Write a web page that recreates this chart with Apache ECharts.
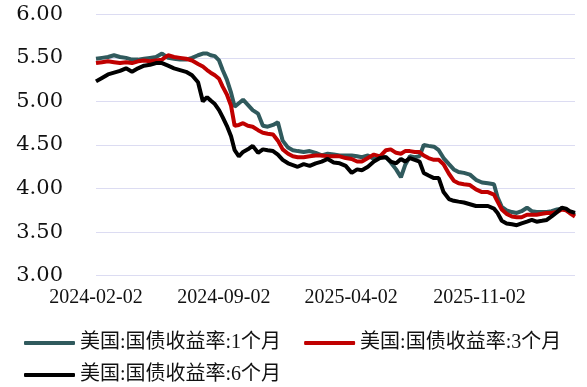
<!DOCTYPE html>
<html>
<head>
<meta charset="utf-8">
<script src="https://cdn.jsdelivr.net/npm/echarts@6/dist/echarts.min.js"></script>
<style>
html,body{margin:0;padding:0;background:#fff;}
#chart{width:587px;height:387px;}
</style>
</head>
<body>
<div id="chart"></div>
<script>
var seriesNames = ['美国:国债收益率:1个月', '美国:国债收益率:3个月', '美国:国债收益率:6个月'];
var xTickLabels = ['2024-02-02', '2024-09-02', '2025-04-02', '2025-11-02'];
var yTicks = [3.0, 3.5, 4.0, 4.5, 5.0, 5.5, 6.0];

var dates = [
'2024-02-02','2024-02-12','2024-02-22','2024-03-03','2024-03-13','2024-03-23','2024-04-02','2024-04-12','2024-04-22','2024-05-02',
'2024-05-12','2024-05-22','2024-06-01','2024-06-11','2024-06-21','2024-07-01','2024-07-11','2024-07-21','2024-07-29','2024-08-05',
'2024-08-11','2024-08-18','2024-08-25','2024-08-31','2024-09-07','2024-09-14','2024-09-20','2024-09-27','2024-10-04','2024-10-12',
'2024-10-20','2024-10-29','2024-11-06','2024-11-14','2024-11-23','2024-12-01','2024-12-09','2024-12-18','2024-12-26','2025-01-03',
'2025-01-13','2025-01-23','2025-02-02','2025-02-12','2025-02-22','2025-03-04','2025-03-14','2025-03-24','2025-04-03','2025-04-12',
'2025-04-20','2025-04-30','2025-05-10','2025-05-20','2025-05-30','2025-06-07','2025-06-16','2025-06-24','2025-07-01','2025-07-09',
'2025-07-17','2025-07-25','2025-08-01','2025-08-09','2025-08-18','2025-08-26','2025-09-03','2025-09-12','2025-09-20','2025-09-28',
'2025-10-07','2025-10-17','2025-10-27','2025-11-06','2025-11-16','2025-11-26','2025-12-02','2025-12-09','2025-12-17','2025-12-26',
'2026-01-03','2026-01-11','2026-01-20','2026-01-28','2026-02-05','2026-02-14','2026-02-22','2026-03-02','2026-03-11','2026-03-19',
'2026-03-26','2026-04-01','2026-04-10'
];

var yield1m = [
5.49,5.50,5.51,5.53,5.51,5.50,5.48,5.48,5.49,5.50,
5.51,5.55,5.50,5.49,5.48,5.48,5.50,5.53,5.55,5.55,
5.53,5.52,5.47,5.36,5.25,5.10,4.94,4.98,5.02,4.96,
4.90,4.86,4.72,4.71,4.73,4.76,4.55,4.47,4.44,4.43,
4.42,4.43,4.41,4.38,4.40,4.39,4.38,4.38,4.38,4.37,
4.36,4.38,4.34,4.37,4.36,4.30,4.22,4.13,4.27,4.37,
4.36,4.37,4.50,4.49,4.48,4.44,4.35,4.28,4.22,4.19,
4.18,4.16,4.10,4.07,4.06,4.05,3.90,3.79,3.75,3.73,
3.72,3.74,3.78,3.74,3.73,3.73,3.73,3.74,3.76,3.77,
3.76,3.73,3.70
];

var yield3m = [
5.44,5.45,5.46,5.45,5.44,5.45,5.44,5.46,5.47,5.46,
5.47,5.48,5.53,5.51,5.50,5.49,5.47,5.43,5.40,5.36,
5.33,5.30,5.26,5.17,5.08,4.95,4.72,4.73,4.75,4.72,
4.71,4.67,4.64,4.63,4.62,4.55,4.45,4.40,4.37,4.36,
4.36,4.37,4.38,4.38,4.37,4.37,4.37,4.35,4.34,4.31,
4.31,4.35,4.39,4.37,4.44,4.45,4.41,4.40,4.43,4.43,
4.42,4.42,4.38,4.35,4.33,4.33,4.28,4.17,4.09,4.06,
4.05,4.04,3.99,3.96,3.96,3.93,3.85,3.76,3.71,3.68,
3.67,3.67,3.70,3.70,3.70,3.71,3.72,3.72,3.73,3.76,
3.75,3.72,3.68
];

var yield6m = [
5.23,5.27,5.31,5.33,5.35,5.38,5.34,5.38,5.41,5.42,
5.44,5.44,5.41,5.38,5.36,5.34,5.30,5.22,5.00,5.05,
5.01,4.97,4.90,4.82,4.72,4.60,4.44,4.37,4.42,4.45,
4.49,4.41,4.45,4.44,4.43,4.39,4.33,4.29,4.27,4.25,
4.28,4.26,4.29,4.31,4.34,4.30,4.29,4.26,4.18,4.22,
4.21,4.25,4.31,4.35,4.36,4.31,4.29,4.34,4.31,4.35,
4.33,4.31,4.18,4.15,4.12,4.12,3.96,3.88,3.86,3.85,
3.84,3.82,3.80,3.80,3.80,3.77,3.72,3.63,3.60,3.59,
3.58,3.60,3.62,3.64,3.62,3.63,3.64,3.68,3.73,3.78,
3.77,3.74,3.72
];

var colors = ['#305A5D', '#C00000', '#000000'];

function ts(s) { return Date.UTC(+s.slice(0, 4), +s.slice(5, 7) - 1, +s.slice(8, 10)); }
function zip(vals) {
  return dates.map(function (d, i) { return [ts(d), vals[i]]; });
}
function fmtDate(v) {
  var d = new Date(v);
  var m = d.getUTCMonth() + 1, day = d.getUTCDate();
  return d.getUTCFullYear() + '-' + (m < 10 ? '0' + m : m) + '-' + (day < 10 ? '0' + day : day);
}

var chart = echarts.init(document.getElementById('chart'), null, {renderer: 'canvas'});
var legendText = {
  fontFamily: '"Liberation Serif", "Noto Sans CJK SC", serif',
  fontSize: 20,
  color: '#111'
};
var option = {
  animation: false,
  backgroundColor: '#ffffff',
  color: colors,
  grid: {left: 96, right: 12, top: 14.3, bottom: 111.3, containLabel: false},
  legend: [
    {data: [seriesNames[0], seriesNames[1]], left: 24, top: 333, padding: 0, itemGap: 23,
     itemWidth: 51, itemHeight: 4, icon: 'roundRect', textStyle: legendText},
    {data: [seriesNames[2]], left: 24, top: 365, padding: 0, itemGap: 23,
     itemWidth: 51, itemHeight: 4, icon: 'roundRect', textStyle: legendText}
  ],
  xAxis: {
    type: 'value',
    min: ts(dates[0]),
    max: ts(dates[dates.length - 1]),
    axisLine: {show: false},
    axisTick: {show: false},
    splitLine: {show: false},
    axisLabel: {
      customValues: xTickLabels.map(ts),
      formatter: function (v) { return fmtDate(v); },
      fontFamily: '"Liberation Serif", serif',
      fontSize: 20,
      color: '#111',
      margin: 12,
      hideOverlap: false
    }
  },
  yAxis: {
    type: 'value',
    min: yTicks[0],
    max: yTicks[yTicks.length - 1],
    interval: 0.5,
    axisLine: {show: false},
    axisTick: {show: false},
    splitLine: {lineStyle: {color: '#DCDCF2', width: 1.2}},
    axisLabel: {
      formatter: function (v) { return v.toFixed(2); },
      fontFamily: '"DejaVu Serif", serif',
      fontSize: 21,
      color: '#111',
      margin: 33
    }
  },
  series: [
    {name: seriesNames[0], type: 'line', data: zip(yield1m), showSymbol: false, symbol: 'none',
     lineStyle: {width: 4, color: colors[0]}, itemStyle: {color: colors[0]}},
    {name: seriesNames[1], type: 'line', data: zip(yield3m), showSymbol: false, symbol: 'none',
     lineStyle: {width: 4, color: colors[1]}, itemStyle: {color: colors[1]}},
    {name: seriesNames[2], type: 'line', data: zip(yield6m), showSymbol: false, symbol: 'none',
     lineStyle: {width: 4, color: colors[2]}, itemStyle: {color: colors[2]}}
  ]
};
chart.setOption(option);
</script>
</body>
</html>
